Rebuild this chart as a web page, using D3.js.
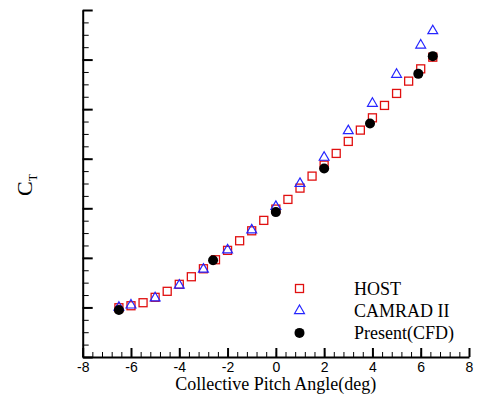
<!DOCTYPE html>
<html>
<head>
<meta charset="utf-8">
<script src="https://cdn.jsdelivr.net/npm/d3@7"></script>
<style>
  body { margin: 0; background: #fff; }
  svg { display: block; }
</style>
</head>
<body>
<div id="chart"></div>
<script>
// collective pitch (deg) and thrust coefficient (x 1e-3)
const hostPitch = [-6.5, -6, -5.5, -5, -4.5, -4, -3.5, -3, -2.5, -2, -1.5, -1, -0.5, 0,
  0.5, 1, 1.5, 2, 2.5, 3, 3.5, 4, 4.5, 5, 5.5, 6, 6.5];
const hostCt = [0.994, 1.034, 1.095, 1.204, 1.325, 1.466, 1.619, 1.780, 1.962, 2.151, 2.345, 2.546, 2.756, 2.984,
  3.179, 3.407, 3.649, 3.871, 4.107, 4.349, 4.577, 4.825, 5.075, 5.317, 5.565, 5.813, 6.048];

const camradPitch = [-6.5, -6, -5, -4, -3, -2, -1, 0, 1, 2, 3, 4, 5, 6, 6.5];
const camradCt = [1.00, 1.046, 1.190, 1.446, 1.768, 2.157, 2.560, 3.034, 3.498, 4.026, 4.563, 5.115, 5.700, 6.290, 6.579];

const cfdPitch = [-6.5, -2.6, 0, 2, 3.9, 5.9, 6.5];
const cfdCt = [0.948, 1.950, 2.923, 3.804, 4.712, 5.712, 6.069];

const xTicks = [-8, -6, -4, -2, 0, 2, 4, 6, 8];
const legendLabels = ["HOST", "CAMRAD II", "Present(CFD)"];

const width = 477, height = 397;
const svg = d3.select("#chart").append("svg")
  .attr("width", width).attr("height", height);

const x = d3.scaleLinear().domain([-8, 8]).range([82.7, 469]);
const y = d3.scaleLinear().domain([0, 7]).range([357, 10]);

const red = "#e01010", blue = "#2525ff";

// minor ticks first so majors sit on top
svg.append("g")
  .attr("transform", `translate(0,${y(0)})`)
  .call(d3.axisBottom(x).tickValues(d3.range(-8, 8.01, 0.4)).tickSizeInner(-5).tickSizeOuter(0).tickFormat(""))
  .call(g => g.select(".domain").remove())
  .call(g => g.selectAll("line").attr("stroke", "#000").attr("stroke-width", 1));

svg.append("g")
  .attr("transform", `translate(${x(-8)},0)`)
  .call(d3.axisLeft(y).tickValues(d3.range(0, 7.01, 0.25)).tickSizeInner(-6).tickSizeOuter(0).tickFormat(""))
  .call(g => g.select(".domain").remove())
  .call(g => g.selectAll("line").attr("stroke", "#000").attr("stroke-width", 1));

// major ticks + axis lines
const xAxis = svg.append("g")
  .attr("transform", `translate(0,${y(0)})`)
  .call(d3.axisBottom(x).tickValues(xTicks).tickSizeInner(-9).tickSizeOuter(0).tickPadding(5)
    .tickFormat(d => String(d)));  // plain hyphen like the original
xAxis.select(".domain").attr("stroke", "#000").attr("stroke-width", 2);
xAxis.selectAll("line").attr("stroke", "#000").attr("stroke-width", 2);
xAxis.selectAll("text")
  .attr("fill", "#000")
  .style("font-family", "'Liberation Sans', Arial, sans-serif")
  .style("font-size", "14px");

const yAxis = svg.append("g")
  .attr("transform", `translate(${x(-8)},0)`)
  .call(d3.axisLeft(y).tickValues(d3.range(0, 8)).tickSizeInner(-10).tickSizeOuter(0).tickFormat(""));
yAxis.select(".domain").attr("stroke", "#000").attr("stroke-width", 2);
yAxis.selectAll("line").attr("stroke", "#000").attr("stroke-width", 2);

// markers
const sq = 8;
function drawSquare(g, cx, cy) {
  g.append("rect")
    .attr("x", cx - sq / 2).attr("y", cy - sq / 2)
    .attr("width", sq).attr("height", sq)
    .attr("fill", "none").attr("stroke", red).attr("stroke-width", 1.3);
}
const tri = d3.symbol().type(d3.symbolTriangle).size(42);
function drawTriangle(g, cx, cy) {
  g.append("path")
    .attr("d", tri())
    .attr("transform", `translate(${cx},${cy})`)
    .attr("fill", "none").attr("stroke", blue).attr("stroke-width", 1.2);
}
function drawDot(g, cx, cy) {
  g.append("circle").attr("cx", cx).attr("cy", cy).attr("r", 5).attr("fill", "#000");
}

const plot = svg.append("g");
hostPitch.forEach((p, i) => drawSquare(plot, x(p), y(hostCt[i])));
camradPitch.forEach((p, i) => drawTriangle(plot, x(p), y(camradCt[i])));
cfdPitch.forEach((p, i) => drawDot(plot, x(p), y(cfdCt[i])));

// legend
const legend = svg.append("g");
const legendDraw = [drawSquare, drawTriangle, drawDot];
legendLabels.forEach((label, i) => {
  const ly = 288.5 + i * 22.2;
  legendDraw[i](legend, 299.5, ly);
  legend.append("text")
    .attr("x", 354).attr("y", ly + 6)
    .style("font-family", "'Liberation Serif', 'Times New Roman', serif")
    .style("font-size", "18px")
    .attr("fill", "#000")
    .text(label);
});

// axis titles
svg.append("text")
  .attr("x", (x(-8) + x(8)) / 2).attr("y", 390)
  .attr("text-anchor", "middle")
  .style("font-family", "'Liberation Serif', 'Times New Roman', serif")
  .style("font-size", "18px")
  .text("Collective Pitch Angle(deg)");

const yTitle = svg.append("text")
  .attr("transform", "translate(32,196) rotate(-90)")
  .style("font-family", "'Liberation Serif', 'Times New Roman', serif")
  .style("font-size", "22px");
yTitle.append("tspan").text("C");
yTitle.append("tspan").attr("dy", 5).style("font-size", "12px").text("T");
</script>
</body>
</html>
